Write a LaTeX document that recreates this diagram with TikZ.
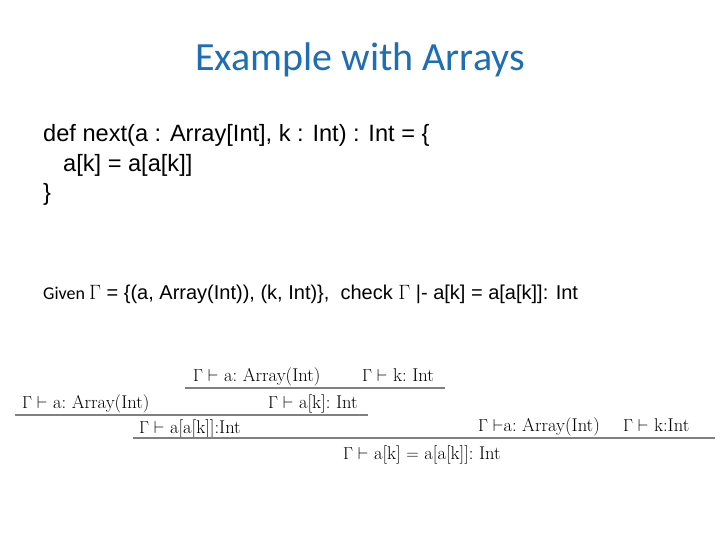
\documentclass[tikz,border=0pt]{standalone}
\usepackage{fontspec}
\newfontfamily\arialfont{Liberation Sans}
\newfontfamily\calibrifont{Carlito}
\newfontfamily\timesfont{Liberation Serif}
\definecolor{titleblue}{RGB}{30,110,180}
\begin{document}
\begin{tikzpicture}[x = 1pt, y = -1pt,
		code/.style = {font = \arialfont\fontsize{23.6}{29}\selectfont, inner sep = 0pt, anchor = base west},
		tree/.style = {font = \fontsize{18.5}{22}\selectfont, inner sep = 0pt, anchor = base west},
		rule/.style = {gray, line width = 1.6pt}]
		\useasboundingbox (0,0) rectangle (720,540);
		%
		\node[font = \calibrifont\fontsize{40}{48}\selectfont, text = titleblue, inner sep = 0pt] (title) at (360,60) {Example with Arrays};
		%
		\node[code] (code1) at (43,142) {def next(a : Array[Int], k : Int) : Int = \{};
		\node[code] (code2) at (63,172) {a[k] = a[a[k]]};
		\node[code] (code3) at (43,201) {\}};
		%
		\node[inner sep = 0pt, anchor = base west] (given) at (43,299) {\calibrifont\fontsize{18}{22}\selectfont Given \timesfont\fontsize{21}{22}\selectfont $\Gamma$\arialfont\fontsize{20}{22}\selectfont{} = \{(a, Array(Int)), (k, Int)\}, \ check \timesfont\fontsize{21}{22}\selectfont$\Gamma$\arialfont\fontsize{20}{22}\selectfont{} |- a[k] = a[a[k]]: Int};
		%
		\node[tree] (p1) at (193,381) {$\Gamma\vdash$ a:\ Array(Int)};
		\node[tree] (p2) at (362,381) {$\Gamma\vdash$ k:\ Int};
		\draw[rule] (185,388)--(445,388);
		%
		\node[tree] (p3) at (22,408) {$\Gamma\vdash$ a:\ Array(Int)};
		\node[tree] (p4) at (268,408) {$\Gamma\vdash$ a[k]:\ Int};
		\draw[rule] (15,415)--(368,415);
		%
		\node[tree] (p5) at (139,433) {$\Gamma\vdash$ a[a[k]]:Int};
		\node[tree] (p6) at (478,431) {$\Gamma\vdash$a:\ Array(Int)};
		\node[tree] (p7) at (623,431) {$\Gamma\vdash$ k:Int};
		\draw[rule] (133,438)--(715,438);
		%
		\node[tree] (p8) at (343,459) {$\Gamma\vdash$ a[k] $=$ a[a[k]]:\ Int};
		%
	\end{tikzpicture}
\end{document}
